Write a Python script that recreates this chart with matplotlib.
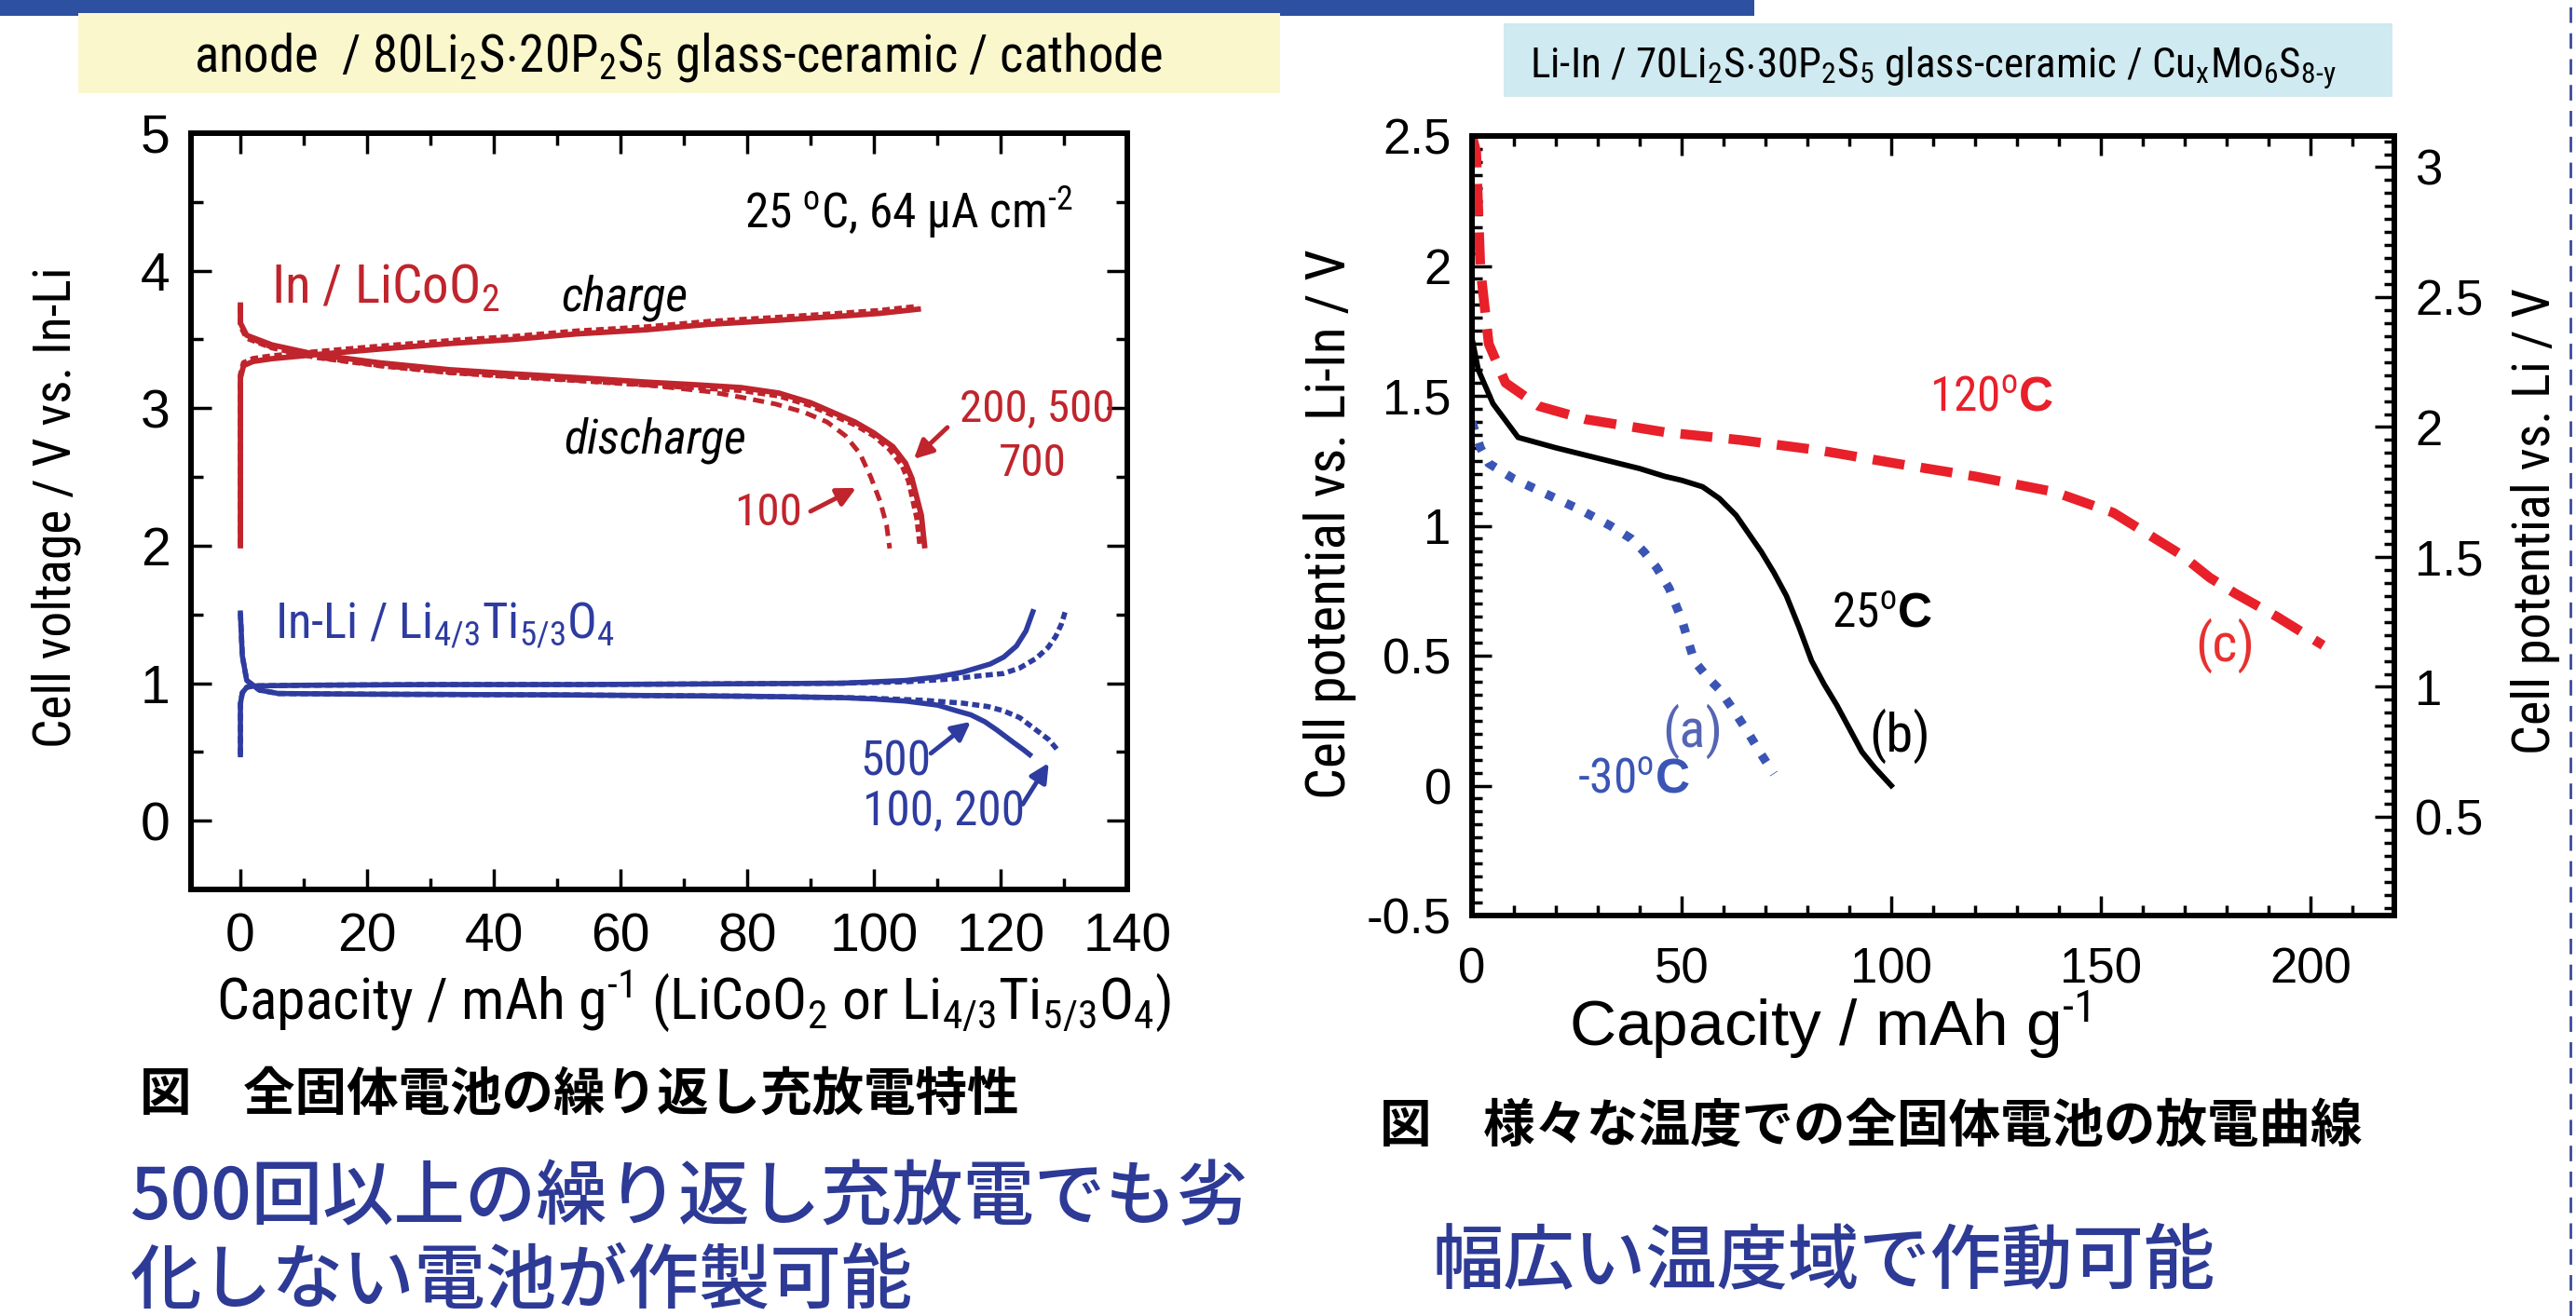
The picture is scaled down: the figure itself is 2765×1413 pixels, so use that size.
import matplotlib
matplotlib.use('Agg')
import matplotlib.pyplot as plt
from matplotlib import font_manager as fm
from matplotlib.patches import Rectangle
from matplotlib.lines import Line2D
from matplotlib.ticker import MultipleLocator, FuncFormatter

# ---------------- data: left chart (In / LiCoO2 and In-Li / Li4/3Ti5/3O4) ----------------
lco_charge_cap = [0, 0, 0.5, 2, 5, 12, 22, 33, 43, 53, 64, 74, 85, 95, 101, 107]
lco_charge_v = [2.0, 3.22, 3.31, 3.34, 3.36, 3.39, 3.43, 3.47, 3.50, 3.54, 3.57, 3.61, 3.64, 3.67, 3.69, 3.72]
lco_charge2_v = [2.0, 3.24, 3.33, 3.36, 3.38, 3.41, 3.45, 3.49, 3.52, 3.56, 3.59, 3.63, 3.66, 3.69, 3.71, 3.74]

lco_dis_cap = [0, 0, 1, 5, 12, 22, 33, 43, 54, 64, 72, 79, 85, 90, 94, 97, 100, 103, 105, 106, 107.5, 108]
lco_dis_v = [3.75, 3.62, 3.53, 3.46, 3.39, 3.33, 3.28, 3.25, 3.22, 3.19, 3.17, 3.15, 3.11, 3.04, 2.96, 2.90, 2.82, 2.72, 2.60, 2.49, 2.22, 2.0]
lco_dis2_cap = [0, 0, 1, 5, 12, 22, 33, 43, 54, 64, 72, 79, 85, 90, 94, 97, 100, 102.5, 104.5, 105.5, 106.8, 107.3]
lco_dis2_v = [3.75, 3.60, 3.51, 3.44, 3.37, 3.31, 3.26, 3.23, 3.20, 3.17, 3.15, 3.13, 3.09, 3.02, 2.94, 2.88, 2.80, 2.70, 2.58, 2.47, 2.20, 2.0]
lco_dis100_cap = [0, 0, 1, 5, 12, 22, 33, 43, 54, 64, 70, 74, 79, 84.5, 89, 92.6, 95.5, 97.8, 99.5, 101, 102, 102.5]
lco_dis100_v = [3.75, 3.62, 3.52, 3.44, 3.37, 3.31, 3.26, 3.23, 3.20, 3.17, 3.14, 3.12, 3.08, 3.03, 2.97, 2.90, 2.80, 2.67, 2.50, 2.32, 2.15, 1.98]

lto_up_cap = [0, 0, 0.3, 1, 2, 10, 30, 53, 75, 95, 105, 110, 114, 118.4, 120.5, 122.5, 124, 125.1]
lto_up_v = [0.48, 0.85, 0.93, 0.97, 0.98, 0.985, 0.99, 0.99, 0.995, 1.0, 1.02, 1.045, 1.08, 1.14, 1.19, 1.27, 1.38, 1.52]
lto_up2_cap = [0, 0, 0.3, 1, 2, 10, 30, 53, 75, 95, 105, 112, 118, 120.4, 123, 125.6, 127.5, 128.7, 129.6, 130.2]
lto_up2_v = [0.48, 0.85, 0.93, 0.97, 0.98, 0.985, 0.99, 0.99, 0.995, 1.0, 1.01, 1.03, 1.06, 1.07, 1.11, 1.18, 1.26, 1.34, 1.43, 1.52]
lto_lo_cap = [0, 0.3, 1, 3, 6, 20, 50, 80, 95, 100, 105, 110.1, 113, 115.3, 117.5, 119.4, 122, 123.5, 124.6]
lto_lo_v = [1.51, 1.20, 1.02, 0.95, 0.925, 0.92, 0.915, 0.905, 0.895, 0.885, 0.87, 0.84, 0.80, 0.77, 0.72, 0.66, 0.57, 0.52, 0.48]
lto_lo2_cap = [0, 0.3, 1, 3, 6, 20, 50, 80, 95, 100, 108, 114, 118, 120.4, 123, 125.6, 127.6, 128.7, 129.2]
lto_lo2_v = [1.51, 1.20, 1.02, 0.95, 0.925, 0.92, 0.915, 0.905, 0.895, 0.89, 0.875, 0.855, 0.83, 0.80, 0.75, 0.66, 0.59, 0.53, 0.50]

# ---------------- data: right chart (discharge at various temperatures) ----------------
t120_cap = [0, 1, 2, 4, 8, 16, 27, 46, 64, 83, 101, 120, 139, 153, 163, 169, 176, 182, 192, 203]
t120_v = [2.5, 2.44, 1.99, 1.70, 1.55, 1.46, 1.41, 1.36, 1.33, 1.29, 1.24, 1.19, 1.13, 1.05, 0.95, 0.89, 0.80, 0.74, 0.65, 0.54]
t25_cap = [0, 1.5, 5, 11, 20, 30, 40, 46, 50, 55, 59, 63, 66, 69, 72, 75, 78, 81, 84, 87, 90, 93, 96, 100]
t25_v = [1.72, 1.60, 1.47, 1.34, 1.30, 1.26, 1.22, 1.19, 1.175, 1.15, 1.105, 1.04, 0.97, 0.90, 0.82, 0.73, 0.61,
         0.48, 0.39, 0.31, 0.22, 0.13, 0.07, 0.0]
tm30_cap = [0, 2, 4, 10, 18, 26, 33, 38, 41, 44, 47, 50, 53, 56, 59, 62, 66, 69, 72]
tm30_v = [1.40, 1.30, 1.24, 1.18, 1.12, 1.06, 1.00, 0.95, 0.90, 0.84, 0.76, 0.64, 0.48, 0.42, 0.37, 0.30, 0.20,
          0.12, 0.045]
li_in_offset = 0.62   # Li-In vs Li potential

# ---------------- fonts ----------------
ttf = fm.fontManager.ttflist
installed = {f.name for f in ttf}


def pick(*names):
    for n in names:
        if n in installed:
            return n
    return 'DejaVu Sans'


SANS = pick('Liberation Sans', 'Arial', 'DejaVu Sans')
NARROW, STRETCH = SANS, 'normal'
for n in ['Liberation Sans Narrow', 'Arial Narrow', 'Nimbus Sans Narrow', 'Roboto Condensed']:
    if n in installed:
        NARROW = n
        break
else:
    for f in ttf:
        if f.name in ('DejaVu Sans', 'Liberation Sans', 'Noto Sans', 'Roboto') and \
                str(f.stretch) in ('condensed', 'semi-condensed') and f.style == 'normal':
            NARROW, STRETCH = f.name, 'condensed'
            break
HAVE_NARROW = NARROW != SANS or STRETCH == 'condensed'
NS = 1.0 if HAVE_NARROW else 0.84   # shrink regular text if no narrow face exists
JP = ['Noto Sans CJK JP', 'DejaVu Sans']

plt.rcParams['font.family'] = SANS
plt.rcParams['mathtext.fontset'] = 'custom'
suffix = ':condensed' if STRETCH == 'condensed' else ''
plt.rcParams['mathtext.rm'] = NARROW + suffix
plt.rcParams['mathtext.it'] = NARROW + ':italic' + suffix
plt.rcParams['mathtext.bf'] = SANS + ':bold'

W, H = 2765, 1413
fig = plt.figure(figsize=(W / 100, H / 100), dpi=100)
fig.patch.set_facecolor('white')


def fpos(x, y):
    return x / W, 1 - y / H


def nfont(size):
    return dict(family=NARROW, stretch=STRETCH, fontsize=size * NS)


RED = '#C0242C'
BLUE = '#2E3CA0'
SLOGAN = '#2D3A96'

# ---------------- slide decorations ----------------
fig.add_artist(Rectangle(fpos(0, 17), 1883 / W, 17 / H, transform=fig.transFigure,
                         facecolor='#2E50A0', edgecolor='none'))
fig.add_artist(Rectangle(fpos(84, 100), (1374 - 84) / W, 86 / H, transform=fig.transFigure,
                         facecolor='#FAF7CD', edgecolor='none'))
fig.add_artist(Rectangle(fpos(1614, 104), (2568 - 1614) / W, 79 / H, transform=fig.transFigure,
                         facecolor='#CFEAF0', edgecolor='none'))
fig.add_artist(Line2D([2759 / W, 2759 / W], [0, 1], transform=fig.transFigure,
                      color='#3B4B9B', lw=2, dashes=(6, 4)))

fig.text(*fpos(728, 77), 'anode  / 80Li$_2$S$\\cdot$20P$_2$S$_5$ glass-ceramic / cathode',
         ha='center', va='baseline', **nfont(39.5))
fig.text(*fpos(2075, 83), 'Li-In / 70Li$_2$S$\\cdot$30P$_2$S$_5$ glass-ceramic / Cu$_{\\text{x}}$Mo$_6$S$_{\\text{8-y}}$',
         ha='center', va='baseline', **nfont(32.5))

# ---------------- left chart ----------------
ax1 = fig.add_axes([205 / W, 1 - 955 / H, 1005 / W, 812 / H])
ax1.plot(lco_charge_cap, lco_charge_v, color=RED, lw=4.2)
ax1.plot(lco_charge_cap, lco_charge2_v, color=RED, lw=4.2, dashes=(1.4, 0.8))
ax1.plot(lco_dis_cap, lco_dis_v, color=RED, lw=4.2)
ax1.plot(lco_dis2_cap, lco_dis2_v, color=RED, lw=4.2, dashes=(1.4, 0.8))
ax1.plot(lco_dis100_cap, lco_dis100_v, color=RED, lw=3.6, dashes=(2.4, 1.5))
ax1.plot(lto_up_cap, lto_up_v, color=BLUE, lw=4)
ax1.plot(lto_up2_cap, lto_up2_v, color=BLUE, lw=4, dashes=(1.4, 0.8))
ax1.plot(lto_lo_cap, lto_lo_v, color=BLUE, lw=4)
ax1.plot(lto_lo2_cap, lto_lo2_v, color=BLUE, lw=4, dashes=(1.4, 0.8))

ax1.set_xlim(-7.8, 140)
ax1.set_ylim(-0.5, 5)
ax1.xaxis.set_major_locator(MultipleLocator(20))
ax1.xaxis.set_minor_locator(MultipleLocator(10))
ax1.yaxis.set_major_locator(MultipleLocator(1))
ax1.yaxis.set_minor_locator(MultipleLocator(0.5))
ax1.yaxis.set_major_formatter(FuncFormatter(lambda v, _: f'{v:g}'))
ax1.tick_params(which='both', direction='in', top=True, right=True, width=2.5)
ax1.tick_params(which='major', length=16, labelsize=41)
ax1.tick_params(which='minor', length=9)
ax1.tick_params(axis='y', pad=16)
ax1.tick_params(axis='x', pad=18)
for s in ax1.spines.values():
    s.set_linewidth(4.3)

ax1.text(131.5, 4.31, '25 $^{\\mathrm{o}}$C, 64 \u00b5A cm$^{\\text{-2}}$', ha='right', va='baseline',
         color='black', **nfont(37))
ax1.text(4.9, 3.77, 'In / LiCoO$_2$', ha='left', va='baseline', color=RED, **nfont(41))
ax1.text(50.7, 3.71, 'charge', ha='left', va='baseline', style='italic', **nfont(37.5))
ax1.text(51, 2.67, 'discharge', ha='left', va='baseline', style='italic', **nfont(37.5))
ax1.text(113.5, 2.90, '200, 500', ha='left', va='baseline', color=RED, **nfont(35.5))
ax1.text(125, 2.51, '700', ha='center', va='baseline', color=RED, **nfont(35.5))
ax1.text(78, 2.15, '100', ha='left', va='baseline', color=RED, **nfont(35.5))
ax1.text(5.4, 1.33, 'In-Li / Li$_{4/3}$Ti$_{5/3}$O$_4$', ha='left', va='baseline', color=BLUE, **nfont(38))
ax1.text(97.8, 0.33, '500', ha='left', va='baseline', color=BLUE, **nfont(37))
ax1.text(98.2, -0.03, '100, 200', ha='left', va='baseline', color=BLUE, **nfont(37))

arr_r = dict(arrowstyle='-|>', color=RED, lw=3.5, mutation_scale=30, shrinkA=0, shrinkB=0)
arr_b = dict(arrowstyle='-|>', color=BLUE, lw=3.5, mutation_scale=30, shrinkA=0, shrinkB=0)
ax1.annotate('', xy=(106.3, 2.63), xytext=(111.6, 2.86), arrowprops=arr_r)
ax1.annotate('', xy=(97.2, 2.42), xytext=(90, 2.25), arrowprops=arr_r)
ax1.annotate('', xy=(115.3, 0.72), xytext=(109, 0.49), arrowprops=arr_b)
ax1.annotate('', xy=(127.6, 0.42), xytext=(123.5, 0.12), arrowprops=arr_b)

fig.text(*fpos(60, 545), 'Cell voltage / V vs. In-Li', rotation=90, ha='center', va='center', **nfont(40))
fig.text(*fpos(745, 1075), 'Capacity / mAh g$^{\\text{-1}}$ (LiCoO$_2$ or Li$_{4/3}$Ti$_{5/3}$O$_4$)',
         ha='center', va='center', **nfont(44.5))

# ---------------- right chart ----------------
ax2 = fig.add_axes([1580 / W, 1 - 983 / H, 990 / W, 837 / H])
ax2.plot(t120_cap, t120_v, color='#E8202A', lw=7.5, dashes=(3.3, 1.7), dash_capstyle='butt')
ax2.plot(t25_cap, t25_v, color='black', lw=4.2)
ax2.plot(tm30_cap, tm30_v, color='#3A55B5', lw=6.8, dashes=(1, 1.5), dash_capstyle='butt')
ax2.set_xlim(0, 220)
ax2.set_ylim(-0.5, 2.5)
ax2.xaxis.set_major_locator(MultipleLocator(50))
ax2.xaxis.set_minor_locator(MultipleLocator(10))
ax2.yaxis.set_major_locator(MultipleLocator(0.5))
ax2.yaxis.set_minor_locator(MultipleLocator(0.05))
ax2.yaxis.set_major_formatter(FuncFormatter(lambda v, _: f'{v:g}'))
ax2.tick_params(which='both', direction='in', top=True, right=False, width=2.5)
ax2.tick_params(which='major', length=15, labelsize=38)
ax2.tick_params(which='minor', length=8)
ax2.tick_params(axis='y', pad=16)
ax2.tick_params(axis='x', pad=24)
for s in ax2.spines.values():
    s.set_linewidth(4.3)

ax3 = ax2.twinx()
ax3.set_ylim(-0.5 + li_in_offset, 2.5 + li_in_offset)
ax3.yaxis.set_major_locator(MultipleLocator(0.5))
ax3.yaxis.set_minor_locator(MultipleLocator(0.05))
ax3.yaxis.set_major_formatter(FuncFormatter(lambda v, _: f'{v:g}'))
ax3.tick_params(which='both', direction='in', width=2.5)
ax3.tick_params(which='major', length=15, labelsize=38, pad=16)
ax3.tick_params(which='minor', length=8)
for s in ax3.spines.values():
    s.set_linewidth(4.3)

ann = dict(ha='center', va='center', **nfont(42))
tmp = dict(ha='center', va='center', **nfont(37))
ax2.text(124, 1.49, '120$^{\\mathrm{o}}\\mathbf{C}$', color='#E8202A', **tmp)
ax2.text(97.8, 0.66, '25$^{\\mathrm{o}}\\mathbf{C}$', color='black', **tmp)
ax2.text(38.5, 0.02, '-30$^{\\mathrm{o}}\\mathbf{C}$', color='#3A55B5', **tmp)
ax2.text(52.5, 0.21, '(a)', color='#5565B5', **ann)
ax2.text(102, 0.19, '(b)', color='black', **ann)
ax2.text(179.5, 0.54, '(c)', color='#E83030', **ann)

fig.text(*fpos(1427, 563), 'Cell potential vs. Li-In / V', rotation=90, ha='center', va='center', **nfont(43))
fig.text(*fpos(2722, 560), 'Cell potential vs. Li / V', rotation=90, ha='center', va='center', **nfont(40.5))
fig.text(*fpos(1964, 1100), 'Capacity / mAh g$^{\\text{-1}}$', fontsize=50, ha='center', va='center')

# ---------------- captions and slogans ----------------
fig.text(*fpos(150, 1176), '図\u3000全固体電池の繰り返し充放電特性', family=JP, fontsize=40,
         weight='bold', ha='left', va='center')
fig.text(*fpos(1481, 1210), '図\u3000様々な温度での全固体電池の放電曲線', family=JP, fontsize=40,
         weight='bold', ha='left', va='center')
fig.text(*fpos(140, 1287), '500回以上の繰り返し充放電でも劣', family=JP, fontsize=55,
         weight='medium', color=SLOGAN, ha='left', va='center')
fig.text(*fpos(140, 1377), '化しない電池が作製可能', family=JP, fontsize=55,
         weight='medium', color=SLOGAN, ha='left', va='center')
fig.text(*fpos(1537, 1355), '幅広い温度域で作動可能', family=JP, fontsize=55,
         weight='medium', color=SLOGAN, ha='left', va='center')

fig.savefig('out.png', dpi=100)
